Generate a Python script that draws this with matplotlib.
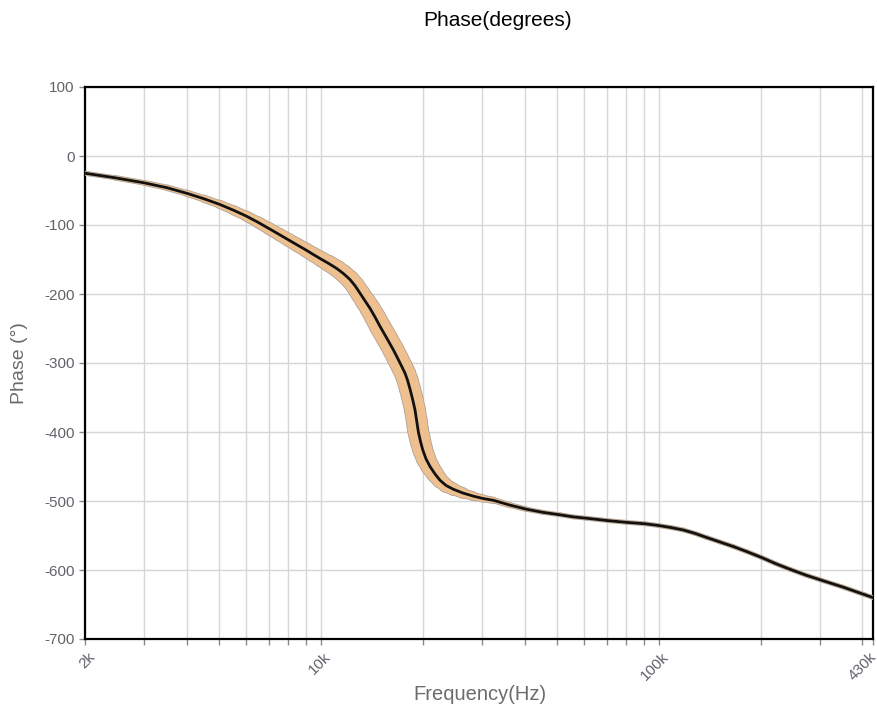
import numpy as np
import matplotlib
matplotlib.use("Agg")
import matplotlib.pyplot as plt
from matplotlib.collections import LineCollection
from matplotlib.ticker import FixedLocator, NullFormatter
import matplotlib.transforms as mtransforms

plt.rcParams['font.family'] = ['Liberation Sans', 'DejaVu Sans']
plt.rcParams['axes.unicode_minus'] = False

# ---- data ----
freq = [2000, 2450, 3000, 3500, 4000, 4500, 5000, 5500, 6000, 6500, 7000,
        7500, 8000, 8500, 9000, 9500, 10000, 10550, 11120, 11650, 12170,
        12600, 13040, 13490, 13960, 14440, 14940, 15640, 16360, 16840, 17320,
        17720, 18020, 18330, 18640, 18960, 19180, 19400, 19690, 19990, 20440,
        21000, 21740, 22490, 23430, 24620, 26300, 28220, 30220, 32340, 36250,
        40600, 45380, 50970, 55690, 61100, 70800, 80300, 90960, 99600, 108600,
        118000, 127900, 138600, 151700, 166000, 182300, 201500, 222000, 244400,
        272400, 303400, 351600, 407400, 430000]
phase = [-25, -31.5, -39, -46, -54, -62, -70, -78.5, -87, -96, -105,
         -113.5, -121.5, -129, -136, -143, -149.5, -156, -163, -170.5, -179,
         -188, -199, -210, -221, -233.5, -247, -264, -281, -293, -305,
         -315, -325, -338, -352, -368, -384, -400, -414, -426, -439,
         -450, -461, -470, -477.5, -483, -488.5, -493, -496.5, -499, -506,
         -512, -516.5, -520, -523, -525, -528.5, -531, -533, -535.5, -538.5,
         -542, -547, -553, -559.5, -566, -573.5, -582, -591, -599,
         -607.5, -615, -625, -636, -640]
# apparent thickness of the tolerance band around the curve (pixels)
band_px = [3, 3.5, 4, 4.5, 5, 6, 7, 8, 9, 10, 11,
           11.5, 12, 12.5, 13, 13.5, 14, 15, 16, 16.5, 17,
           17.5, 18, 18.5, 19, 19.5, 20, 20, 20, 20, 20,
           20, 20, 20, 20, 20, 20, 20, 19.5, 19, 18,
           17, 15.5, 14, 12.5, 11, 9, 7, 6, 5, 4,
           3.5, 3, 3, 3, 3, 3, 3, 3, 3, 3,
           3, 3, 3, 3, 3, 3, 3, 3, 3,
           3, 3, 3, 3, 3]

x_major = [2000, 10000, 100000, 430000]
x_major_labels = ['2k', '10k', '100k', '430k']
x_minor = [3000, 4000, 5000, 6000, 7000, 8000, 9000,
           20000, 30000, 40000, 50000, 60000, 70000, 80000, 90000,
           200000, 300000, 400000]
y_ticks = [100, 0, -100, -200, -300, -400, -500, -600, -700]

# ---- figure ----
fig = plt.figure(figsize=(8.77, 7.09), dpi=100)
ax = fig.add_axes([85/877, 1-639/709, (873-85)/877, (639-87)/709])
ax.set_xscale('log')
ax.set_xlim(2000, 430000)
ax.set_ylim(-700, 100)

ax.set_xticks(x_major)
ax.set_xticklabels(x_major_labels)
ax.xaxis.set_minor_locator(FixedLocator(x_minor))
ax.xaxis.set_minor_formatter(NullFormatter())
ax.set_yticks(y_ticks)

grid_c = '#d6d6d6'
ax.grid(True, which='both', axis='x', color=grid_c, lw=1.0)
ax.grid(True, which='major', axis='y', color=grid_c, lw=1.0)
ax.set_axisbelow(True)

for s in ax.spines.values():
    s.set_color('black')
    s.set_linewidth(1.6)

tick_c = '#8a8a8a'
ax.tick_params(axis='both', which='both', direction='out', color=tick_c,
               length=4, width=1, labelcolor='#62626a', labelsize=11)
xl = ax.get_xticklabels()
for i, lbl in enumerate(xl):
    lbl.set_rotation(45)
    lbl.set_ha('right')
    lbl.set_va('top')
    lbl.set_rotation_mode('anchor')
    dx = 2/72 if i < len(xl) - 1 else -3/72
    lbl.set_transform(lbl.get_transform() +
                      mtransforms.ScaledTranslation(dx, 0, fig.dpi_scale_trans))

# ---- band + line ----
x = np.array(freq, dtype=float)
y = np.array(phase, dtype=float)
w = np.array(band_px, dtype=float) * 72 / 100.0
segs = [[(x[i], y[i]), (x[i+1], y[i+1])] for i in range(len(x)-1)]
wseg = (w[:-1] + w[1:]) / 2

edge = LineCollection(segs, linewidths=wseg + 1.3, colors='#b3a699',
                      capstyle='round', joinstyle='round', zorder=3)
band = LineCollection(segs, linewidths=wseg, colors='#efc08f',
                      capstyle='round', joinstyle='round', zorder=4)
ax.add_collection(edge)
ax.add_collection(band)
ax.plot(freq, phase, color='#111111', lw=2.0, zorder=5,
        solid_capstyle='round', solid_joinstyle='round')

# ---- text ----
fig.text(498/877, 1-20/709, 'Phase(degrees)', ha='center', va='center',
         fontsize=15, color='black')
ax.set_ylabel('Phase (°)', fontsize=14, color='#6b6b6b')
ax.yaxis.set_label_coords(-(85-20)/788, 0.5)
ax.set_xlabel('Frequency(Hz)', fontsize=14.5, color='#6b6b6b')
ax.xaxis.set_label_coords((480-85)/788, -(695-639)/552)
ax.xaxis.label.set_va('center')
ax.yaxis.label.set_va('center')

fig.savefig('out.png', dpi=100)
